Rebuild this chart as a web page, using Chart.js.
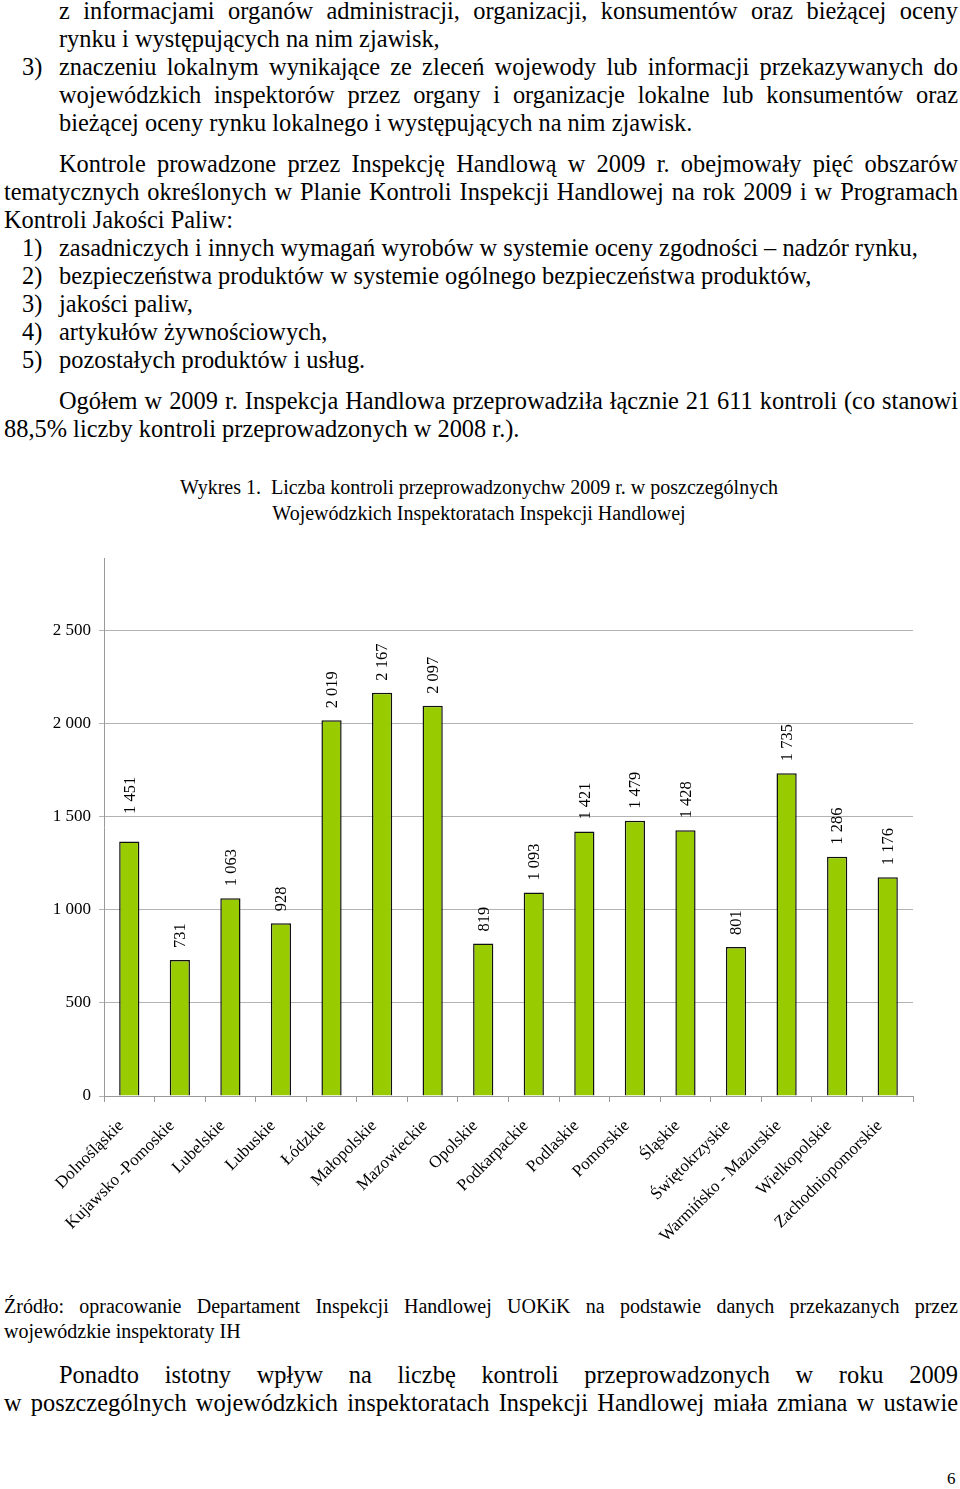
<!DOCTYPE html>
<html>
<head>
<meta charset="utf-8">
<script src="https://cdn.jsdelivr.net/npm/chart.js@4.4.0/dist/chart.umd.min.js"></script>
<style>
html,body{margin:0;padding:0;background:#fff;}
body{width:960px;height:1489px;overflow:hidden;position:relative;}
.t{position:absolute;font-family:'Liberation Serif','Times New Roman',serif;font-size:24.4px;line-height:28px;color:#000;white-space:nowrap;}
.j{white-space:normal;text-align:justify;text-align-last:justify;}
.cap{position:absolute;font-family:'Liberation Serif','Times New Roman',serif;font-size:20px;line-height:24px;color:#000;white-space:nowrap;}
#chartBox{position:absolute;left:0;top:540px;width:960px;height:720px;}
</style>
</head>
<body>
<div class="t j" style="left:59px;top:-3px;width:899px;">z informacjami organów administracji, organizacji, konsumentów oraz bieżącej oceny</div>
<div class="t" style="left:59px;top:25px;">rynku i występujących na nim zjawisk,</div>
<div class="t" style="left:22px;top:53px;">3)</div>
<div class="t j" style="left:59px;top:53px;width:899px;">znaczeniu lokalnym wynikające ze zleceń wojewody lub informacji przekazywanych do</div>
<div class="t j" style="left:59px;top:81px;width:899px;">wojewódzkich inspektorów przez organy i organizacje lokalne lub konsumentów oraz</div>
<div class="t" style="left:59px;top:109px;">bieżącej oceny rynku lokalnego i występujących na nim zjawisk.</div>

<div class="t j" style="left:59px;top:150px;width:899px;">Kontrole prowadzone przez Inspekcję Handlową w 2009 r. obejmowały pięć obszarów</div>
<div class="t j" style="left:4px;top:178px;width:954px;">tematycznych określonych w Planie Kontroli Inspekcji Handlowej na rok 2009 i w Programach</div>
<div class="t" style="left:4px;top:206px;">Kontroli Jakości Paliw:</div>
<div class="t" style="left:22px;top:234px;">1)</div>
<div class="t" style="left:59px;top:234px;">zasadniczych i innych wymagań wyrobów w systemie oceny zgodności – nadzór rynku,</div>
<div class="t" style="left:22px;top:262px;">2)</div>
<div class="t" style="left:59px;top:262px;">bezpieczeństwa produktów w systemie ogólnego bezpieczeństwa produktów,</div>
<div class="t" style="left:22px;top:290px;">3)</div>
<div class="t" style="left:59px;top:290px;">jakości paliw,</div>
<div class="t" style="left:22px;top:318px;">4)</div>
<div class="t" style="left:59px;top:318px;">artykułów żywnościowych,</div>
<div class="t" style="left:22px;top:346px;">5)</div>
<div class="t" style="left:59px;top:346px;">pozostałych produktów i usług.</div>

<div class="t j" style="left:59px;top:387px;width:899px;">Ogółem w 2009 r. Inspekcja Handlowa przeprowadziła łącznie 21 611 kontroli (co stanowi</div>
<div class="t" style="left:4px;top:415px;">88,5% liczby kontroli przeprowadzonych w 2008 r.).</div>

<div class="cap" style="left:0;top:475px;width:958px;text-align:center;">Wykres 1.&nbsp; Liczba kontroli przeprowadzonychw 2009 r. w poszczególnych</div>
<div class="cap" style="left:0;top:501px;width:958px;text-align:center;">Wojewódzkich Inspektoratach Inspekcji Handlowej</div>

<div id="chartBox"><canvas id="c" width="960" height="720"></canvas></div>

<div class="cap j" style="left:4px;top:1294px;width:954px;">Źródło: opracowanie Departament Inspekcji Handlowej UOKiK na podstawie danych przekazanych przez</div>
<div class="cap" style="left:4px;top:1319px;">wojewódzkie inspektoraty IH</div>

<div class="t j" style="left:59px;top:1361px;width:899px;">Ponadto istotny wpływ na liczbę kontroli przeprowadzonych w roku 2009</div>
<div class="t j" style="left:4px;top:1389px;width:954px;">w poszczególnych wojewódzkich inspektoratach Inspekcji Handlowej miała zmiana w ustawie</div>

<div class="t" style="left:947px;top:1469px;font-size:17px;line-height:20px;">6</div>

<script>
const categories = ['Dolnośląskie','Kujawsko -Pomoskie','Lubelskie','Lubuskie','Łódzkie','Małopolskie','Mazowieckie','Opolskie','Podkarpackie','Podlaskie','Pomorskie','Śląskie','Świętokrzyskie','Warmińsko - Mazurskie','Wielkopolskie','Zachodniopomorskie'];
const values = [1368, 731, 1063, 928, 2019, 2167, 2097, 819, 1093, 1421, 1479, 1428, 801, 1735, 1286, 1176];
const valueLabels = ['1 451','731','1 063','928','2 019','2 167','2 097','819','1 093','1 421','1 479','1 428','801','1 735','1 286','1 176'];
const yTicks = [0, 500, 1000, 1500, 2000, 2500];
const yTickLabels = ['0','500','1 000','1 500','2 000','2 500'];
const yMax = 2890;

const labelPlugin = {
  id: 'valueLabels',
  afterDatasetsDraw(chart) {
    const ctx = chart.ctx;
    const meta = chart.getDatasetMeta(0);
    const yScale = chart.scales.y;
    ctx.save();
    ctx.fillStyle = '#000';
    ctx.font = '16.5px "Liberation Serif", "Times New Roman", serif';
    ctx.textAlign = 'left';
    ctx.textBaseline = 'middle';
    meta.data.forEach((bar, i) => {
      const v = parseFloat(valueLabels[i].replace(/\s/g, ''));
      const y = yScale.getPixelForValue(v) - 12;
      ctx.save();
      ctx.translate(bar.x + 1, y);
      ctx.rotate(-Math.PI / 2);
      ctx.fillText(valueLabels[i], 0, 0);
      ctx.restore();
    });
    ctx.restore();
  }
};

new Chart(document.getElementById('c'), {
  type: 'bar',
  data: {
    labels: categories,
    datasets: [{
      data: values,
      backgroundColor: '#99cc00',
      borderColor: '#111',
      borderWidth: 1.5,
      barPercentage: 0.4,
      categoryPercentage: 1
    }]
  },
  options: {
    responsive: false,
    animation: false,
    devicePixelRatio: 1,
    layout: { padding: { top: 15, right: 47, left: 0, bottom: 0 } },
    plugins: { legend: { display: false }, tooltip: { enabled: false }, title: { display: false } },
    scales: {
      x: {
        grid: { display: true, drawOnChartArea: false, drawTicks: true, tickLength: 6, color: '#999', offset: true },
        border: { display: true, color: '#999', width: 1 },
        ticks: { autoSkip: false, maxRotation: 45, minRotation: 45, color: '#000', padding: 14, labelOffset: -8,
                 font: { family: '"Liberation Serif", "Times New Roman", serif', size: 17 } },
        afterFit: s => { s.height = 164; }
      },
      y: {
        min: 0,
        max: yMax,
        afterBuildTicks: s => { s.ticks = yTicks.map(v => ({ value: v })); },
        grid: { color: '#b3b3b3', tickLength: 5, drawTicks: true },
        border: { display: true, color: '#999', width: 1 },
        ticks: { color: '#000', padding: 8,
                 font: { family: '"Liberation Serif", "Times New Roman", serif', size: 17 },
                 callback: v => yTickLabels[yTicks.indexOf(v)] },
        afterFit: s => { s.width = 104; }
      }
    }
  },
  plugins: [labelPlugin]
});
</script>
</body>
</html>
